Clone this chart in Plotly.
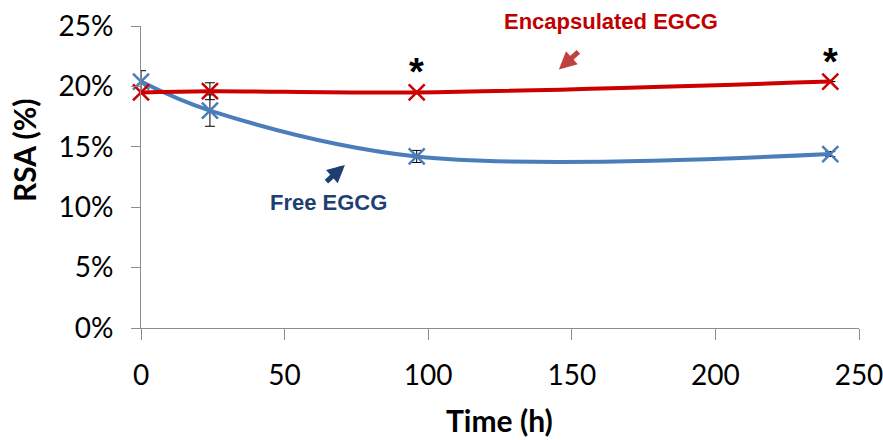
import plotly.graph_objects as go

# ---- data ----
time_h = [0, 24, 96, 240]
free_egcg = [0.204, 0.180, 0.142, 0.144]
free_err = [0.009, 0.013, 0.005, 0.002]
encap_egcg = [0.195, 0.196, 0.195, 0.204]
encap_err = [0.0, 0.007, 0.0, 0.0]
star_times = [96, 240]
star_vals = [0.195, 0.204]
x_ticks = [0, 50, 100, 150, 200, 250]
y_ticks = [0, 0.05, 0.10, 0.15, 0.20, 0.25]

W, H = 883, 440
L, R, T, B = 141, 24, 26, 112

RED = "#CC0000"
BLUE = "#4A7EBB"
AXIS = "#8C8C8C"
TICKFONT = dict(family="Lato, Calibri, sans-serif", size=28, color="#000000")
TITLEFONT = dict(family="Lato, Calibri, sans-serif", size=30, color="#000000")

fig = go.Figure()

fig.add_trace(go.Scatter(
    x=time_h, y=free_egcg, mode="lines+markers", name="Free EGCG",
    line=dict(color=BLUE, width=4, shape="spline", smoothing=1),
    marker=dict(symbol="x-thin-open", size=16, line=dict(color=BLUE, width=2.5), color=BLUE),
    error_y=dict(type="data", array=free_err, visible=True, color="#000000", thickness=1, width=5),
    cliponaxis=False,
))
fig.add_trace(go.Scatter(
    x=time_h, y=encap_egcg, mode="lines+markers", name="Encapsulated EGCG",
    line=dict(color=RED, width=4, shape="spline", smoothing=1),
    marker=dict(symbol="x-thin-open", size=16, line=dict(color=RED, width=2.5), color=RED),
    error_y=dict(type="data", array=encap_err, visible=True, color="#000000", thickness=1, width=5),
    cliponaxis=False,
))

pw, ph = W - L - R, H - T - B


def px_x(px):
    return (px - L) / pw


def px_y(py):
    return (H - B - py) / ph


C = dict(xanchor="center", yanchor="middle", showarrow=False, xref="paper", yref="paper")

annotations = []
# significance stars
for sx, sy in zip(star_times, star_vals):
    annotations.append(dict(x=sx, y=sy, xref="x", yref="y", text="<b>*</b>", showarrow=False,
                            xanchor="center", yanchor="middle", yshift=20,
                            font=dict(family="Liberation Sans, Arial", size=38, color="#000000")))
# series labels
annotations.append(dict(x=px_x(611), y=px_y(22), text="<b>Encapsulated EGCG</b>",
                        font=dict(family="Liberation Sans, Arial", size=22, color="#C00000"), **C))
annotations.append(dict(x=px_x(328), y=px_y(202.5), text="<b>Free EGCG</b>",
                        font=dict(family="Liberation Sans, Arial", size=22, color="#1F3F73"), **C))
# arrows
annotations.append(dict(x=145.5, y=0.214, xref="x", yref="y", text="", showarrow=True,
                        ax=21, ay=-19, axref="pixel", ayref="pixel",
                        arrowhead=2, arrowsize=0.7, arrowwidth=5, arrowcolor="#C0403D", standoff=0))
annotations.append(dict(x=71.0, y=0.135, xref="x", yref="y", text="", showarrow=True,
                        ax=-20, ay=18, axref="pixel", ayref="pixel",
                        arrowhead=2, arrowsize=0.7, arrowwidth=5, arrowcolor="#1F3F73", standoff=0))
# axis titles
annotations.append(dict(x=px_x(499), y=px_y(420), text="<b>Time (h)</b>", font=TITLEFONT, **C))
annotations.append(dict(x=px_x(24), y=px_y(150), text="<b>RSA (%)</b>", textangle=-90,
                        font=TITLEFONT, **C))

fig.update_layout(
    width=W, height=H,
    margin=dict(l=L, r=R, t=T, b=B, autoexpand=False),
    paper_bgcolor="#FFFFFF", plot_bgcolor="#FFFFFF",
    showlegend=False,
    annotations=annotations,
    xaxis=dict(range=[0, 250], tickvals=x_ticks, ticks="outside", ticklen=11, tickcolor=AXIS,
               showline=True, linecolor=AXIS, linewidth=1, showgrid=False, zeroline=False,
               tickfont=TICKFONT, ticklabelstandoff=11, automargin=False,
               ticklabeloverflow="allow"),
    yaxis=dict(range=[0, 0.25], tickvals=y_ticks, tickformat=".0%", ticks="outside", ticklen=9,
               tickcolor=AXIS, showline=True, linecolor=AXIS, linewidth=1, showgrid=False,
               zeroline=False, tickfont=TICKFONT, ticklabelstandoff=12, automargin=False,
               ticklabeloverflow="allow"),
)

fig.write_html("out.html", config={"displayModeBar": False},
               post_script="document.body.style.margin='0';")
